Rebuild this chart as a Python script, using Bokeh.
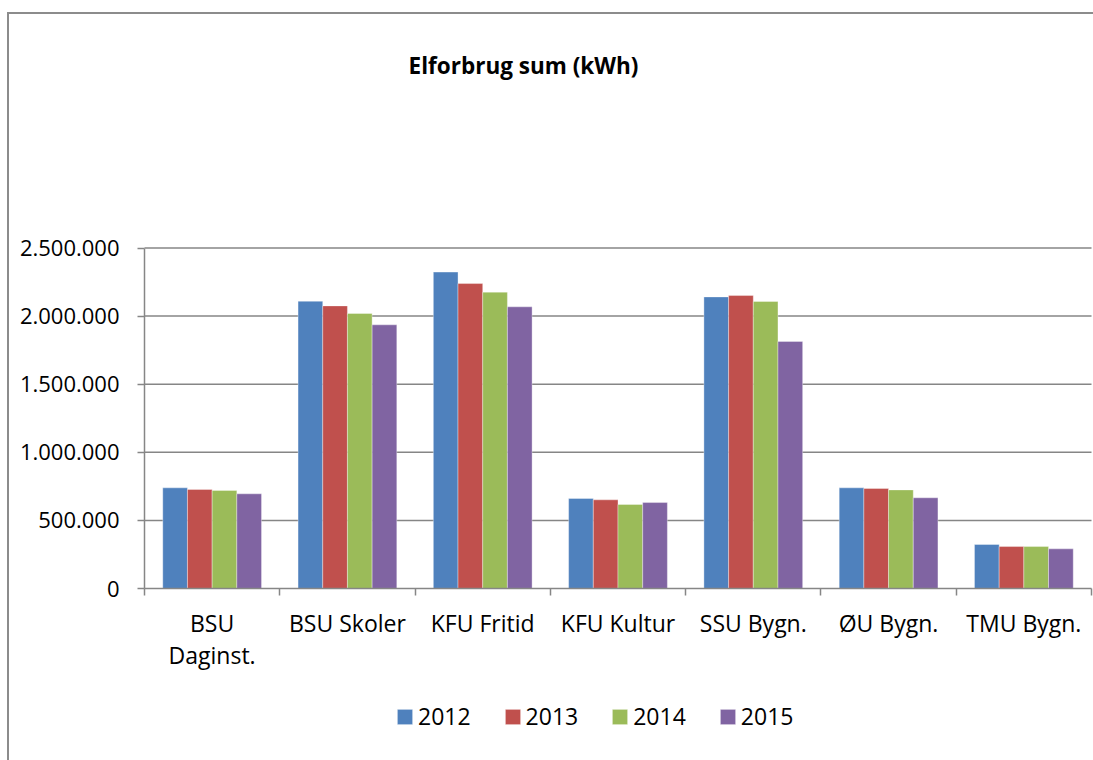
from bokeh.plotting import figure
from bokeh.models import Range1d, FixedTicker, Legend, LegendItem, Label
from bokeh.embed import file_html
from bokeh.resources import INLINE

# ---- data ----
categories = ["BSU Daginst.", "BSU Skoler", "KFU Fritid", "KFU Kultur", "SSU Bygn.", "ØU Bygn.", "TMU Bygn."]
category_labels = ["BSU\nDaginst.", "BSU Skoler", "KFU Fritid", "KFU Kultur", "SSU Bygn.", "ØU Bygn.", "TMU Bygn."]
years = ["2012", "2013", "2014", "2015"]
values_2012 = [739000, 2109000, 2323000, 661000, 2141000, 739000, 323000]
values_2013 = [727000, 2075000, 2239000, 651000, 2151000, 734000, 308000]
values_2014 = [720000, 2019000, 2176000, 617000, 2107000, 724000, 308000]
values_2015 = [695000, 1936000, 2068000, 631000, 1814000, 666000, 291000]
y_ticks = [0, 500000, 1000000, 1500000, 2000000, 2500000]
y_tick_labels = ["0", "500.000", "1.000.000", "1.500.000", "2.000.000", "2.500.000"]
title_text = "Elforbrug sum (kWh)"

# ---- layout / style ----
W, H = 1093, 760
PLOT_L, PLOT_R = 144, 1091      # pixel x of first / last category boundary
PLOT_T, PLOT_B = 247.5, 588     # pixel y of top tick / zero
colors = ["#4F81BD", "#C0504D", "#9BBB59", "#8064A2"]
grey = "#868686"
FONT = "Open Sans"
series = [values_2012, values_2013, values_2014, values_2015]
n = len(categories)
bar_w = 0.1825
ymax = y_ticks[-1]

xu = n / (PLOT_R - PLOT_L)
yu = ymax / (PLOT_B - PLOT_T)
x_range = Range1d(-PLOT_L * xu, n + (W - PLOT_R) * xu)
y_range = Range1d(-(H - PLOT_B) * yu, ymax + PLOT_T * yu)

p = figure(
    width=W, height=H, x_range=x_range, y_range=y_range,
    output_backend="svg", toolbar_location=None, min_border=0,
)
p.title.visible = False
p.styles = {"box-shadow": "inset 7px 0 0 0 #ffffff, inset 0 12px 0 0 #ffffff, inset 9px 14px 0 0 #8c8c8c"}
p.outline_line_color = None
p.background_fill_alpha = 0
p.border_fill_alpha = 0
p.xgrid.visible = False
p.ygrid.visible = False

# horizontal grid lines between the category extent
p.segment(x0=[0] * (len(y_ticks) - 1), x1=[n] * (len(y_ticks) - 1),
          y0=y_ticks[1:], y1=y_ticks[1:], line_color=grey, line_width=1.5)

items = []
for j, (yr, vals, col) in enumerate(zip(years, series, colors)):
    xs = [i + 0.5 + (j - (len(years) - 1) / 2) * bar_w for i in range(n)]
    r = p.vbar(x=xs, top=vals, width=bar_w, bottom=0, fill_color=col,
               line_color="white", line_alpha=0.35, line_width=1)
    items.append(LegendItem(label=yr, renderers=[r]))

# y axis
ya = p.yaxis[0]
ya.fixed_location = 0
ya.bounds = (0, ymax)
ya.ticker = FixedTicker(ticks=y_ticks)
ya.major_label_overrides = {t: l for t, l in zip(y_ticks, y_tick_labels)}
ya.axis_line_color = grey
ya.axis_line_width = 1.5
ya.major_tick_line_color = grey
ya.major_tick_line_width = 1.5
ya.major_tick_out = 7
ya.major_tick_in = 0
ya.minor_tick_line_color = None
ya.major_label_standoff = 18
ya.major_label_text_font = FONT
ya.major_label_text_font_size = "22px"
ya.major_label_text_color = "black"

# x axis
xa = p.xaxis[0]
xa.fixed_location = 0
xa.bounds = (0, n)
centers = [i + 0.5 for i in range(n)]
xa.ticker = FixedTicker(ticks=centers, minor_ticks=list(range(n + 1)))
xa.major_label_overrides = {c: l for c, l in zip(centers, category_labels)}
xa.axis_line_color = grey
xa.axis_line_width = 1.5
xa.major_tick_line_color = None
xa.major_tick_out = 0
xa.major_tick_in = 0
xa.minor_tick_line_color = grey
xa.minor_tick_line_width = 1.5
xa.minor_tick_out = 7
xa.minor_tick_in = 0
xa.major_label_standoff = 11
xa.major_label_text_font = FONT
xa.major_label_text_font_size = "23px"
xa.major_label_text_color = "black"
xa.major_label_text_line_height = 1.02

# legend
legend = Legend(
    items=items, orientation="horizontal", location=(395, 28),
    border_line_color=None, background_fill_alpha=0,
    padding=0, margin=0, spacing=32,
    glyph_width=19, glyph_height=19, label_standoff=4,
    label_text_font=FONT, label_text_font_size="23px", label_text_color="black",
)
p.add_layout(legend)

# title
p.add_layout(Label(
    x=523, y=H - 65, x_units="screen", y_units="screen", text=title_text,
    text_align="center", text_baseline="alphabetic",
    text_font=FONT, text_font_style="bold", text_font_size="22.5px", text_color="black",
))

open("out.html", "w").write(file_html(p, INLINE))
